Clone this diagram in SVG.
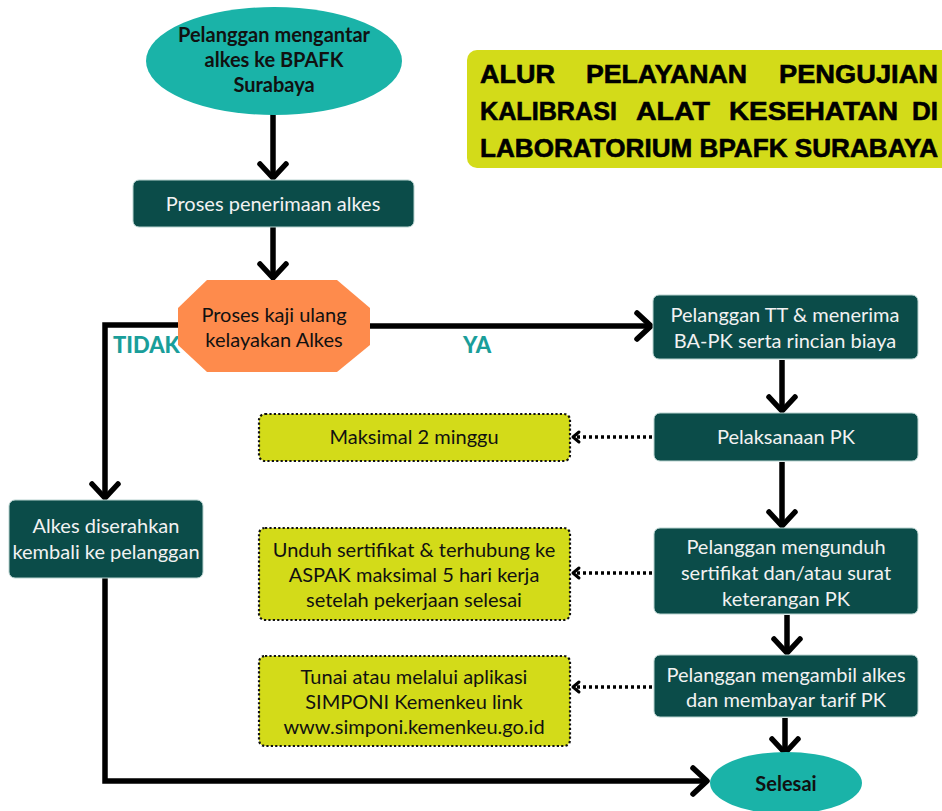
<svg xmlns="http://www.w3.org/2000/svg" width="942" height="811" viewBox="0 0 942 811">
<style>
.dark{fill:#0b4c49;stroke:#b9d3d0;stroke-width:1}
.yel{fill:#d3db19;stroke:#111;stroke-width:2.2;stroke-dasharray:2.2 2.2}
.wt{font-family:Lato,"Open Sans",sans-serif;font-size:20px;fill:#f2f2f2;text-anchor:middle}
.bt{font-family:Lato,"Open Sans",sans-serif;font-size:20px;fill:#111;text-anchor:middle}
.bb{font-family:Lato,"Open Sans",sans-serif;font-size:20px;font-weight:bold;fill:#111;text-anchor:middle}
.lab{font-family:Lato,"Open Sans",sans-serif;font-size:22px;font-weight:900;fill:#1a9e9a}
.ttl{font-family:"Liberation Sans",Arial,sans-serif;font-size:26px;font-weight:bold;fill:#000;stroke:#000;stroke-width:0.6}
.con{fill:none;stroke:#000;stroke-width:5.5}
.dot{fill:none;stroke:#000;stroke-width:3.5;stroke-dasharray:3 3}
</style>
<defs>
<marker id="ah" markerUnits="userSpaceOnUse" viewBox="0 0 22 34" markerWidth="22" markerHeight="34" refX="18" refY="17" orient="auto">
<path d="M4,4 L18,17 L4,30" fill="none" stroke="#000" stroke-width="5.5" stroke-linecap="round" stroke-linejoin="round"/>
</marker>
<marker id="ahs" markerUnits="userSpaceOnUse" viewBox="0 0 12 16" markerWidth="12" markerHeight="16" refX="9" refY="8" orient="auto">
<path d="M3,3 L9,8 L3,13" fill="none" stroke="#000" stroke-width="3" stroke-linecap="round" stroke-linejoin="round"/>
</marker>
</defs>

<g id="title">
<rect x="467" y="50" width="485" height="118" rx="10" fill="#d3db19"/>
<text class="ttl" x="480" y="83" textLength="75" lengthAdjust="spacingAndGlyphs">ALUR</text>
<text class="ttl" x="586" y="83" textLength="161" lengthAdjust="spacingAndGlyphs">PELAYANAN</text>
<text class="ttl" x="779" y="83" textLength="159" lengthAdjust="spacingAndGlyphs">PENGUJIAN</text>
<text class="ttl" x="480" y="120" textLength="137" lengthAdjust="spacingAndGlyphs">KALIBRASI</text>
<text class="ttl" x="636" y="120" textLength="74" lengthAdjust="spacingAndGlyphs">ALAT</text>
<text class="ttl" x="729" y="120" textLength="169" lengthAdjust="spacingAndGlyphs">KESEHATAN</text>
<text class="ttl" x="912" y="120" textLength="26" lengthAdjust="spacingAndGlyphs">DI</text>
<text class="ttl" x="480" y="157" textLength="458" lengthAdjust="spacingAndGlyphs">LABORATORIUM BPAFK SURABAYA</text>
</g>

<g id="connectors">
<line class="con" x1="273" y1="114" x2="273" y2="178" marker-end="url(#ah)"/>
<line class="con" x1="273" y1="227" x2="273" y2="278" marker-end="url(#ah)"/>
<line class="con" x1="370" y1="326" x2="651" y2="326" marker-end="url(#ah)"/>
<polyline class="con" points="178,325 105,325 105,498" marker-end="url(#ah)"/>
<polyline class="con" points="105,578 105,781 707,781" marker-end="url(#ah)"/>
<line class="con" x1="782" y1="360" x2="782" y2="411" marker-end="url(#ah)"/>
<line class="con" x1="782" y1="462" x2="782" y2="526" marker-end="url(#ah)"/>
<line class="con" x1="787" y1="615" x2="787" y2="653" marker-end="url(#ah)"/>
<line class="con" x1="785" y1="718" x2="785" y2="753" marker-end="url(#ah)"/>
<line class="dot" x1="652" y1="437" x2="573" y2="437" marker-end="url(#ahs)"/>
<line class="dot" x1="652" y1="573" x2="573" y2="573" marker-end="url(#ahs)"/>
<line class="dot" x1="652" y1="687" x2="573" y2="687" marker-end="url(#ahs)"/>
</g>

<g id="lbl-tidak"><text class="lab" x="113" y="353">TIDAK</text></g>
<g id="lbl-ya"><text class="lab" x="463" y="353">YA</text></g>

<g id="start">
<ellipse cx="274" cy="61" rx="128" ry="54" fill="#1ab3a8"/>
<text class="bb" x="274" y="42">Pelanggan mengantar</text>
<text class="bb" x="274" y="67">alkes ke BPAFK</text>
<text class="bb" x="274" y="92">Surabaya</text>
</g>

<g id="penerimaan">
<rect class="dark" x="133" y="180" width="281" height="47" rx="6"/>
<text class="wt" x="273" y="211">Proses penerimaan alkes</text>
</g>

<g id="kaji">
<polygon points="207,280 337,280 370,308 370,345 337,372 207,372 178,345 178,308" fill="#fe8b4c"/>
<text class="bt" x="274" y="322">Proses kaji ulang</text>
<text class="bt" x="274" y="347">kelayakan Alkes</text>
</g>

<g id="diserahkan">
<rect class="dark" x="9" y="500" width="194" height="78" rx="6"/>
<text class="wt" x="106" y="533">Alkes diserahkan</text>
<text class="wt" x="106" y="559">kembali ke pelanggan</text>
</g>

<g id="tt">
<rect class="dark" x="653" y="295" width="265" height="64" rx="6"/>
<text class="wt" x="785" y="322">Pelanggan TT &amp; menerima</text>
<text class="wt" x="785" y="348">BA-PK serta rincian biaya</text>
</g>

<g id="pelaksanaan">
<rect class="dark" x="654" y="413" width="264" height="48" rx="6"/>
<text class="wt" x="786" y="444">Pelaksanaan PK</text>
</g>

<g id="maksimal">
<rect class="yel" x="259" y="414" width="311" height="47" rx="6"/>
<text class="bt" x="414" y="444">Maksimal 2 minggu</text>
</g>

<g id="mengunduh">
<rect class="dark" x="654" y="528" width="264" height="86" rx="6"/>
<text class="wt" x="786" y="554">Pelanggan mengunduh</text>
<text class="wt" x="786" y="580">sertifikat dan/atau surat</text>
<text class="wt" x="786" y="606">keterangan PK</text>
</g>

<g id="unduh">
<rect class="yel" x="259" y="528" width="311" height="92" rx="6"/>
<text class="bt" x="414" y="557">Unduh sertifikat &amp; terhubung ke</text>
<text class="bt" x="414" y="582">ASPAK maksimal 5 hari kerja</text>
<text class="bt" x="414" y="607">setelah pekerjaan selesai</text>
</g>

<g id="mengambil">
<rect class="dark" x="654" y="655" width="264" height="62" rx="6"/>
<text class="wt" x="786" y="682">Pelanggan mengambil alkes</text>
<text class="wt" x="786" y="707">dan membayar tarif PK</text>
</g>

<g id="tunai">
<rect class="yel" x="259" y="656" width="311" height="90" rx="6"/>
<text class="bt" x="414" y="684">Tunai atau melalui aplikasi</text>
<text class="bt" x="414" y="709">SIMPONI Kemenkeu link</text>
<text class="bt" x="414" y="734">www.simponi.kemenkeu.go.id</text>
</g>

<g id="selesai">
<ellipse cx="786" cy="783" rx="76" ry="31" fill="#1ab3a8"/>
<text class="bb" x="786" y="791">Selesai</text>
</g>
</svg>
